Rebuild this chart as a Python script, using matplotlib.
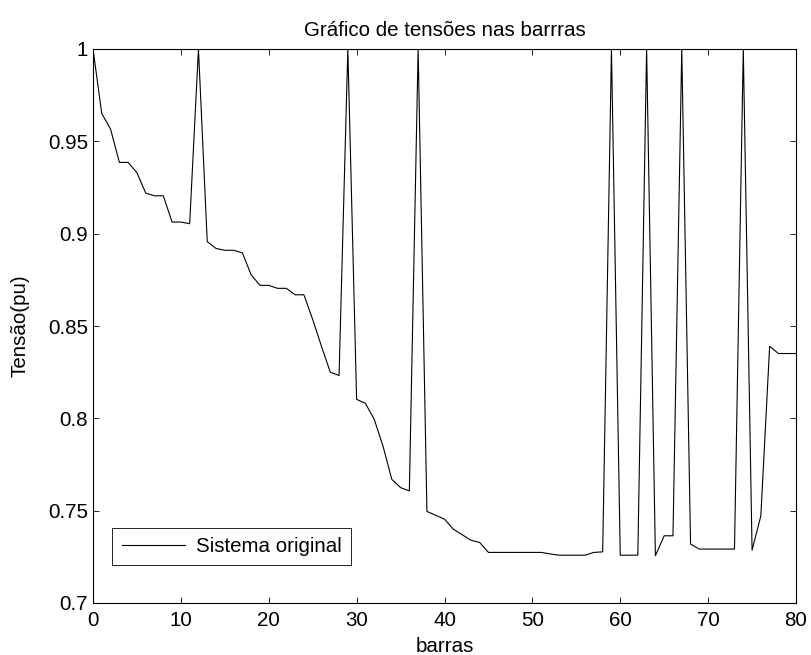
import numpy as np
import matplotlib
matplotlib.use("Agg")
import matplotlib.pyplot as plt

plt.rcParams['font.family'] = ['Liberation Sans', 'DejaVu Sans']

# tensao em cada barra (pu)
tensao = [
    1.0, 0.965, 0.9566, 0.9386, 0.9386, 0.933, 0.922, 0.9205, 0.9205, 0.9063,
    0.9063, 0.9054, 1.0, 0.8957, 0.892, 0.891, 0.891, 0.8896, 0.8777, 0.872,
    0.872, 0.8704, 0.8704, 0.8669, 0.8669, 0.8535, 0.839, 0.825, 0.8232, 1.0,
    0.8103, 0.8081, 0.7995, 0.785, 0.767, 0.7625, 0.7607, 1.0, 0.7496, 0.7475,
    0.7454, 0.740, 0.737, 0.734, 0.7328, 0.7274, 0.7274, 0.7274, 0.7274, 0.7274,
    0.7274, 0.7274, 0.7266, 0.7259, 0.7259, 0.7259, 0.7259, 0.7274, 0.7277, 1.0,
    0.7259, 0.7259, 0.7259, 1.0, 0.7256, 0.7364, 0.7364, 1.0, 0.7319, 0.7292,
    0.7292, 0.7292, 0.7292, 0.7292, 1.0, 0.7286, 0.7472, 0.839, 0.8351, 0.8351,
    0.8351,
]
barras = list(range(len(tensao)))

xticks = [0, 10, 20, 30, 40, 50, 60, 70, 80]
yticks = [0.7, 0.75, 0.8, 0.85, 0.9, 0.95, 1.0]
ytick_labels = ['0.7', '0.75', '0.8', '0.85', '0.9', '0.95', '1']

fs = 14.8

fig = plt.figure(figsize=(8.11, 6.55), dpi=100)
ax = fig.add_axes([93 / 811, 1 - 603 / 655, (796 - 93) / 811, (603 - 49) / 655])

ax.plot(barras, tensao, color='black', lw=0.8, label='Sistema original')

ax.set_xlim(0, 80)
ax.set_ylim(0.7, 1.0)
ax.set_xticks(xticks)
ax.set_yticks(yticks)
ax.set_yticklabels(ytick_labels)
ax.tick_params(direction='in', length=4.3, width=0.6, top=True, right=True,
               labelsize=fs)
ax.tick_params(axis='x', pad=5.5)
ax.tick_params(axis='y', pad=3.5)
for s in ax.spines.values():
    s.set_linewidth(0.8)

ax.set_title('Gráfico de tensões nas barrras', fontsize=fs, pad=9)
ax.set_xlabel('barras', fontsize=fs, labelpad=5.5)
ax.set_ylabel('Tensão(pu)', fontsize=fs, labelpad=13)

leg = ax.legend(loc='upper left', bbox_to_anchor=(19.3 / 703, 75.3 / 554),
                borderaxespad=0, fancybox=False, framealpha=1, fontsize=fs,
                handlelength=3.1, handletextpad=0.5, borderpad=0.45)
leg.get_frame().set_edgecolor('black')
leg.get_frame().set_linewidth(0.6)

fig.savefig('out.png', dpi=100)
